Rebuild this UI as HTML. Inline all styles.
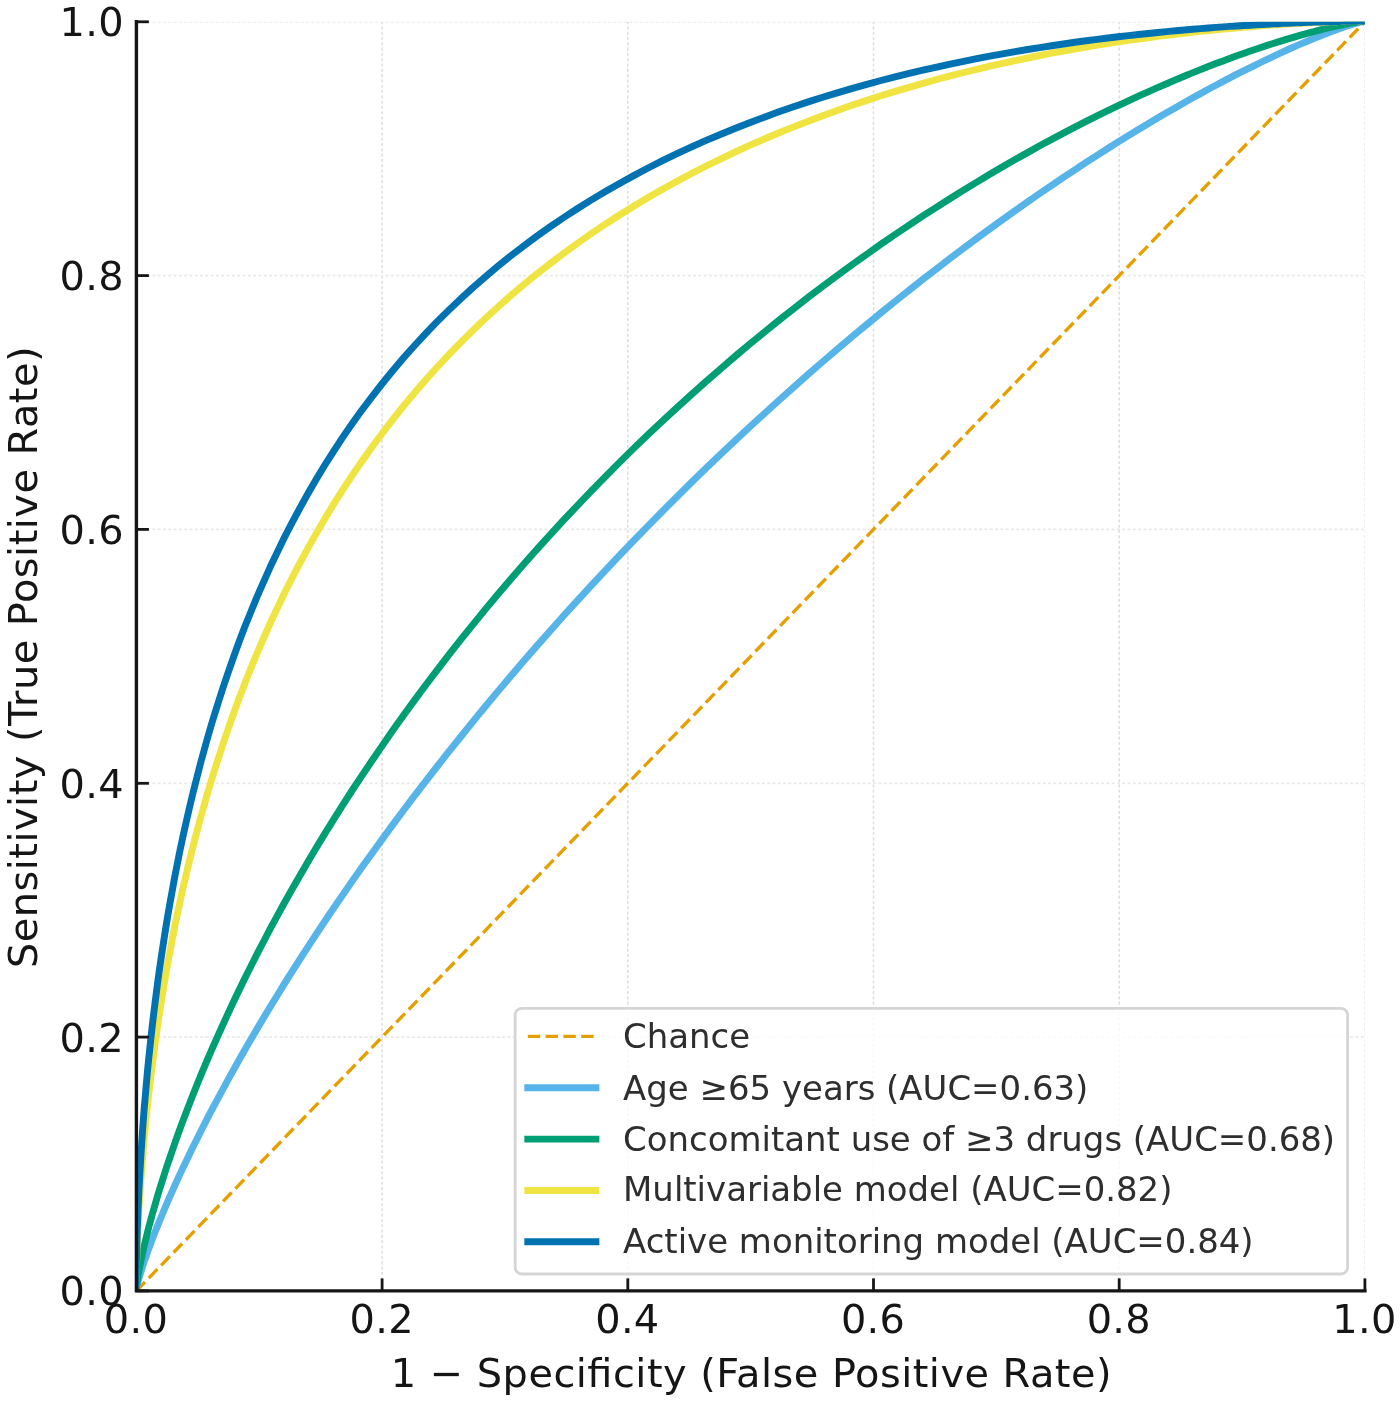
<!DOCTYPE html>
<html lang="en"><head><meta charset="utf-8"><title>ROC curves</title>
<style>html,body{margin:0;padding:0;background:#fff}svg{display:block}text{font-family:'DejaVu Sans','Liberation Sans',sans-serif;fill:#151515}.lg text{fill:#2e2e2e}</style>
</head><body>
<svg width="1400" height="1401" viewBox="0 0 1400 1401">
<rect width="1400" height="1401" fill="#ffffff"/>
<defs><clipPath id="ax"><rect x="136.4" y="21.8" width="1228.5" height="1269.1"/></clipPath></defs>
<g clip-path="url(#ax)" stroke-dasharray="3.1,2.2" fill="none">
<line x1="136.4" y1="1290.9" x2="136.4" y2="21.8" stroke="#ececec" stroke-width="1.5"/>
<line x1="382.1" y1="1290.9" x2="382.1" y2="21.8" stroke="#dedede" stroke-width="1.5"/>
<line x1="627.8" y1="1290.9" x2="627.8" y2="21.8" stroke="#dedede" stroke-width="1.5"/>
<line x1="873.5" y1="1290.9" x2="873.5" y2="21.8" stroke="#dedede" stroke-width="1.5"/>
<line x1="1119.2" y1="1290.9" x2="1119.2" y2="21.8" stroke="#dedede" stroke-width="1.5"/>
<line x1="1364.9" y1="1290.9" x2="1364.9" y2="21.8" stroke="#ececec" stroke-width="1.5"/>
<line x1="136.4" y1="1290.9" x2="1364.9" y2="1290.9" stroke="#e9e9e9" stroke-width="1.8"/>
<line x1="136.4" y1="1037.1" x2="1364.9" y2="1037.1" stroke="#e9e9e9" stroke-width="1.8"/>
<line x1="136.4" y1="783.3" x2="1364.9" y2="783.3" stroke="#e9e9e9" stroke-width="1.8"/>
<line x1="136.4" y1="529.4" x2="1364.9" y2="529.4" stroke="#e9e9e9" stroke-width="1.8"/>
<line x1="136.4" y1="275.6" x2="1364.9" y2="275.6" stroke="#e9e9e9" stroke-width="1.8"/>
<line x1="136.4" y1="21.8" x2="1364.9" y2="21.8" stroke="#e9e9e9" stroke-width="1.8"/>
</g>
<g clip-path="url(#ax)" fill="none" stroke-linejoin="round">
<line x1="136.4" y1="1290.9" x2="1364.9" y2="21.8" stroke="#E69F00" stroke-width="3.36" stroke-dasharray="12.4,5.4"/>
<path d="M136.0,1290.2 L136.0,1290.2 L136.0,1290.2 L136.0,1290.2 L136.0,1290.1 L136.0,1290.1 L136.0,1290.1 L136.0,1290.1 L136.0,1290.1 L136.0,1290.1 L136.0,1290.1 L136.0,1290.1 L136.0,1290.1 L136.0,1290.0 L136.0,1290.0 L136.0,1290.0 L136.0,1290.0 L136.0,1290.0 L136.0,1289.9 L136.0,1289.9 L136.1,1289.9 L136.1,1289.8 L136.1,1289.8 L136.1,1289.7 L136.1,1289.7 L136.1,1289.6 L136.1,1289.5 L136.1,1289.5 L136.1,1289.4 L136.2,1289.3 L136.2,1289.2 L136.2,1289.1 L136.2,1289.0 L136.2,1288.8 L136.3,1288.7 L136.3,1288.5 L136.3,1288.4 L136.4,1288.2 L136.4,1288.0 L136.5,1287.8 L136.5,1287.5 L136.6,1287.3 L136.7,1287.0 L136.7,1286.7 L136.8,1286.3 L136.9,1285.9 L137.0,1285.5 L137.1,1285.1 L137.2,1284.6 L137.4,1284.1 L137.5,1283.6 L137.7,1283.0 L137.8,1282.3 L138.0,1281.6 L138.2,1280.9 L138.4,1280.1 L138.7,1279.2 L138.9,1278.3 L139.2,1277.3 L139.6,1276.3 L139.9,1275.1 L140.3,1273.9 L140.7,1272.6 L141.1,1271.2 L141.6,1269.7 L142.1,1268.1 L142.6,1266.4 L143.2,1264.6 L143.8,1262.7 L144.5,1260.7 L145.3,1258.5 L146.1,1256.2 L146.9,1253.8 L147.8,1251.2 L148.8,1248.5 L149.9,1245.7 L151.0,1242.6 L152.2,1239.4 L153.5,1236.1 L154.9,1232.5 L156.4,1228.8 L157.9,1224.9 L159.6,1220.8 L161.4,1216.4 L163.3,1211.9 L165.3,1207.2 L167.4,1202.2 L169.7,1197.0 L172.1,1191.6 L174.6,1185.9 L177.3,1180.0 L180.1,1173.9 L183.1,1167.5 L186.3,1160.9 L189.6,1153.9 L193.1,1146.8 L196.8,1139.4 L200.6,1131.7 L204.7,1123.7 L208.9,1115.4 L213.4,1106.9 L218.1,1098.1 L223.0,1089.1 L228.1,1079.7 L233.4,1070.1 L238.9,1060.2 L244.7,1050.0 L250.8,1039.6 L257.0,1028.9 L263.6,1017.9 L270.3,1006.7 L277.4,995.2 L284.6,983.4 L292.2,971.4 L300.0,959.1 L308.1,946.7 L316.4,933.9 L325.0,921.0 L333.9,907.8 L343.0,894.5 L352.4,880.9 L362.1,867.1 L372.1,853.2 L382.3,839.1 L392.7,824.9 L403.4,810.5 L414.4,795.9 L425.6,781.3 L437.1,766.5 L448.8,751.6 L460.8,736.7 L472.9,721.6 L485.3,706.5 L497.9,691.4 L510.7,676.2 L523.7,661.1 L536.9,645.9 L550.3,630.7 L563.8,615.5 L577.6,600.4 L591.4,585.3 L605.4,570.3 L619.5,555.4 L633.7,540.6 L648.1,525.8 L662.5,511.2 L677.0,496.7 L691.6,482.3 L706.2,468.1 L720.9,454.1 L735.5,440.2 L750.2,426.5 L765.0,413.0 L779.6,399.7 L794.3,386.6 L808.9,373.7 L823.5,361.0 L838.0,348.6 L852.4,336.4 L866.8,324.5 L881.0,312.8 L895.1,301.4 L909.1,290.2 L922.9,279.3 L936.7,268.7 L950.2,258.3 L963.6,248.2 L976.8,238.4 L989.8,228.9 L1002.6,219.6 L1015.2,210.6 L1027.6,201.9 L1039.7,193.5 L1051.7,185.3 L1063.4,177.4 L1074.9,169.8 L1086.1,162.4 L1097.1,155.3 L1107.8,148.5 L1118.2,141.9 L1128.4,135.6 L1138.4,129.5 L1148.1,123.7 L1157.5,118.1 L1166.6,112.8 L1175.5,107.7 L1184.1,102.8 L1192.4,98.1 L1200.5,93.6 L1208.3,89.3 L1215.9,85.3 L1223.1,81.4 L1230.2,77.7 L1236.9,74.2 L1243.5,70.9 L1249.7,67.8 L1255.8,64.8 L1261.6,62.0 L1267.1,59.3 L1272.4,56.8 L1277.5,54.4 L1282.4,52.1 L1287.1,50.0 L1291.6,48.0 L1295.8,46.1 L1299.9,44.4 L1303.7,42.7 L1307.4,41.2 L1310.9,39.7 L1314.2,38.3 L1317.4,37.0 L1320.4,35.9 L1323.2,34.7 L1325.9,33.7 L1328.4,32.7 L1330.8,31.8 L1333.1,31.0 L1335.2,30.2 L1337.2,29.5 L1339.1,28.8 L1340.9,28.1 L1342.6,27.6 L1344.1,27.0 L1345.6,26.5 L1347.0,26.1 L1348.3,25.6 L1349.5,25.3 L1350.6,24.9 L1351.7,24.6 L1352.7,24.3 L1353.6,24.0 L1354.4,23.7 L1355.2,23.5 L1356.0,23.3 L1356.7,23.1 L1357.3,22.9 L1357.9,22.7 L1358.4,22.6 L1358.9,22.4 L1359.4,22.3 L1359.8,22.2 L1360.2,22.1 L1360.6,22.0 L1360.9,21.9 L1361.3,21.8 L1361.6,21.7 L1361.8,21.7 L1362.1,21.6 L1362.3,21.6 L1362.5,21.5 L1362.7,21.5 L1362.8,21.4 L1363.0,21.4 L1363.1,21.4 L1363.3,21.3 L1363.4,21.3 L1363.5,21.3 L1363.6,21.3 L1363.7,21.2 L1363.8,21.2 L1363.8,21.2 L1363.9,21.2 L1364.0,21.2 L1364.0,21.2 L1364.1,21.2 L1364.1,21.2 L1364.2,21.2 L1364.2,21.1 L1364.2,21.1 L1364.3,21.1 L1364.3,21.1 L1364.3,21.1 L1364.3,21.1 L1364.3,21.1 L1364.4,21.1 L1364.4,21.1 L1364.4,21.1 L1364.4,21.1 L1364.4,21.1 L1364.4,21.1 L1364.4,21.1 L1364.4,21.1 L1364.4,21.1 L1364.5,21.1 L1364.5,21.1 L1364.5,21.1 L1364.5,21.1 L1364.5,21.1 L1364.5,21.1 L1364.5,21.1 L1364.5,21.1 L1364.5,21.1 L1364.5,21.1 L1364.5,21.1 L1364.5,21.1 L1364.5,21.1 L1364.5,21.1 L1364.5,21.1 L1364.5,21.1 L1364.5,21.1 L1364.5,21.1 L1364.5,21.1 L1364.5,21.1" stroke="#56B4E9" stroke-width="6.94" stroke-linecap="square"/>
<path d="M136.0,1290.2 L136.0,1290.1 L136.0,1290.1 L136.0,1290.1 L136.0,1290.1 L136.0,1290.1 L136.0,1290.1 L136.0,1290.0 L136.0,1290.0 L136.0,1290.0 L136.0,1290.0 L136.0,1289.9 L136.0,1289.9 L136.0,1289.9 L136.0,1289.8 L136.0,1289.8 L136.0,1289.8 L136.0,1289.7 L136.0,1289.6 L136.0,1289.6 L136.1,1289.5 L136.1,1289.4 L136.1,1289.4 L136.1,1289.3 L136.1,1289.2 L136.1,1289.0 L136.1,1288.9 L136.1,1288.8 L136.1,1288.6 L136.2,1288.5 L136.2,1288.3 L136.2,1288.1 L136.2,1287.9 L136.2,1287.7 L136.3,1287.4 L136.3,1287.1 L136.3,1286.8 L136.4,1286.5 L136.4,1286.2 L136.5,1285.8 L136.5,1285.4 L136.6,1284.9 L136.7,1284.4 L136.7,1283.9 L136.8,1283.3 L136.9,1282.7 L137.0,1282.1 L137.1,1281.3 L137.2,1280.6 L137.4,1279.8 L137.5,1278.9 L137.7,1277.9 L137.8,1276.9 L138.0,1275.8 L138.2,1274.6 L138.4,1273.4 L138.7,1272.0 L138.9,1270.6 L139.2,1269.1 L139.6,1267.4 L139.9,1265.7 L140.3,1263.9 L140.7,1261.9 L141.1,1259.8 L141.6,1257.6 L142.1,1255.3 L142.6,1252.8 L143.2,1250.2 L143.8,1247.4 L144.5,1244.5 L145.3,1241.4 L146.1,1238.1 L146.9,1234.7 L147.8,1231.0 L148.8,1227.2 L149.9,1223.2 L151.0,1219.0 L152.2,1214.6 L153.5,1210.0 L154.9,1205.2 L156.4,1200.1 L157.9,1194.8 L159.6,1189.3 L161.4,1183.6 L163.3,1177.6 L165.3,1171.3 L167.4,1164.8 L169.7,1158.1 L172.1,1151.1 L174.6,1143.8 L177.3,1136.3 L180.1,1128.5 L183.1,1120.4 L186.3,1112.0 L189.6,1103.4 L193.1,1094.5 L196.8,1085.3 L200.6,1075.9 L204.7,1066.1 L208.9,1056.1 L213.4,1045.8 L218.1,1035.3 L223.0,1024.5 L228.1,1013.4 L233.4,1002.0 L238.9,990.4 L244.7,978.6 L250.8,966.5 L257.0,954.1 L263.6,941.5 L270.3,928.7 L277.4,915.7 L284.6,902.5 L292.2,889.0 L300.0,875.4 L308.1,861.5 L316.4,847.5 L325.0,833.4 L333.9,819.1 L343.0,804.6 L352.4,790.0 L362.1,775.3 L372.1,760.5 L382.3,745.6 L392.7,730.6 L403.4,715.5 L414.4,700.4 L425.6,685.3 L437.1,670.1 L448.8,654.9 L460.8,639.7 L472.9,624.6 L485.3,609.4 L497.9,594.3 L510.7,579.3 L523.7,564.3 L536.9,549.4 L550.3,534.6 L563.8,519.9 L577.6,505.3 L591.4,490.9 L605.4,476.6 L619.5,462.4 L633.7,448.4 L648.1,434.6 L662.5,421.0 L677.0,407.6 L691.6,394.4 L706.2,381.3 L720.9,368.6 L735.5,356.0 L750.2,343.7 L765.0,331.6 L779.6,319.7 L794.3,308.2 L808.9,296.8 L823.5,285.8 L838.0,275.0 L852.4,264.5 L866.8,254.2 L881.0,244.2 L895.1,234.5 L909.1,225.1 L922.9,215.9 L936.7,207.1 L950.2,198.5 L963.6,190.1 L976.8,182.1 L989.8,174.3 L1002.6,166.8 L1015.2,159.5 L1027.6,152.6 L1039.7,145.8 L1051.7,139.4 L1063.4,133.1 L1074.9,127.2 L1086.1,121.4 L1097.1,115.9 L1107.8,110.7 L1118.2,105.7 L1128.4,100.8 L1138.4,96.2 L1148.1,91.9 L1157.5,87.7 L1166.6,83.7 L1175.5,79.9 L1184.1,76.3 L1192.4,72.9 L1200.5,69.6 L1208.3,66.6 L1215.9,63.6 L1223.1,60.9 L1230.2,58.3 L1236.9,55.8 L1243.5,53.5 L1249.7,51.3 L1255.8,49.2 L1261.6,47.2 L1267.1,45.4 L1272.4,43.7 L1277.5,42.1 L1282.4,40.6 L1287.1,39.1 L1291.6,37.8 L1295.8,36.6 L1299.9,35.4 L1303.7,34.3 L1307.4,33.3 L1310.9,32.3 L1314.2,31.5 L1317.4,30.6 L1320.4,29.9 L1323.2,29.2 L1325.9,28.5 L1328.4,27.9 L1330.8,27.3 L1333.1,26.8 L1335.2,26.3 L1337.2,25.9 L1339.1,25.5 L1340.9,25.1 L1342.6,24.8 L1344.1,24.4 L1345.6,24.1 L1347.0,23.9 L1348.3,23.6 L1349.5,23.4 L1350.6,23.2 L1351.7,23.0 L1352.7,22.8 L1353.6,22.6 L1354.4,22.5 L1355.2,22.4 L1356.0,22.2 L1356.7,22.1 L1357.3,22.0 L1357.9,21.9 L1358.4,21.9 L1358.9,21.8 L1359.4,21.7 L1359.8,21.6 L1360.2,21.6 L1360.6,21.5 L1360.9,21.5 L1361.3,21.5 L1361.6,21.4 L1361.8,21.4 L1362.1,21.4 L1362.3,21.3 L1362.5,21.3 L1362.7,21.3 L1362.8,21.3 L1363.0,21.2 L1363.1,21.2 L1363.3,21.2 L1363.4,21.2 L1363.5,21.2 L1363.6,21.2 L1363.7,21.2 L1363.8,21.2 L1363.8,21.2 L1363.9,21.1 L1364.0,21.1 L1364.0,21.1 L1364.1,21.1 L1364.1,21.1 L1364.2,21.1 L1364.2,21.1 L1364.2,21.1 L1364.3,21.1 L1364.3,21.1 L1364.3,21.1 L1364.3,21.1 L1364.3,21.1 L1364.4,21.1 L1364.4,21.1 L1364.4,21.1 L1364.4,21.1 L1364.4,21.1 L1364.4,21.1 L1364.4,21.1 L1364.4,21.1 L1364.4,21.1 L1364.5,21.1 L1364.5,21.1 L1364.5,21.1 L1364.5,21.1 L1364.5,21.1 L1364.5,21.1 L1364.5,21.1 L1364.5,21.1 L1364.5,21.1 L1364.5,21.1 L1364.5,21.1 L1364.5,21.1 L1364.5,21.1 L1364.5,21.1 L1364.5,21.1 L1364.5,21.1 L1364.5,21.1 L1364.5,21.1 L1364.5,21.1 L1364.5,21.1" stroke="#009E73" stroke-width="6.94" stroke-linecap="square"/>
<path d="M136.0,1290.2 L136.0,1289.3 L136.0,1289.3 L136.0,1289.1 L136.0,1289.0 L136.0,1288.9 L136.0,1288.8 L136.0,1288.6 L136.0,1288.5 L136.0,1288.3 L136.0,1288.1 L136.0,1287.9 L136.0,1287.6 L136.0,1287.4 L136.0,1287.1 L136.0,1286.8 L136.0,1286.5 L136.0,1286.1 L136.0,1285.7 L136.0,1285.3 L136.1,1284.9 L136.1,1284.4 L136.1,1283.8 L136.1,1283.3 L136.1,1282.7 L136.1,1282.0 L136.1,1281.3 L136.1,1280.5 L136.1,1279.7 L136.2,1278.8 L136.2,1277.8 L136.2,1276.8 L136.2,1275.7 L136.2,1274.5 L136.3,1273.2 L136.3,1271.9 L136.3,1270.4 L136.4,1268.9 L136.4,1267.3 L136.5,1265.5 L136.5,1263.7 L136.6,1261.7 L136.7,1259.6 L136.7,1257.4 L136.8,1255.0 L136.9,1252.5 L137.0,1249.9 L137.1,1247.1 L137.2,1244.1 L137.4,1241.0 L137.5,1237.8 L137.7,1234.3 L137.8,1230.7 L138.0,1226.8 L138.2,1222.8 L138.4,1218.6 L138.7,1214.2 L138.9,1209.5 L139.2,1204.7 L139.6,1199.6 L139.9,1194.3 L140.3,1188.7 L140.7,1183.0 L141.1,1177.0 L141.6,1170.7 L142.1,1164.2 L142.6,1157.4 L143.2,1150.3 L143.8,1143.0 L144.5,1135.5 L145.3,1127.6 L146.1,1119.5 L146.9,1111.2 L147.8,1102.5 L148.8,1093.6 L149.9,1084.4 L151.0,1074.9 L152.2,1065.1 L153.5,1055.1 L154.9,1044.8 L156.4,1034.2 L157.9,1023.3 L159.6,1012.2 L161.4,1000.9 L163.3,989.2 L165.3,977.3 L167.4,965.2 L169.7,952.8 L172.1,940.2 L174.6,927.4 L177.3,914.3 L180.1,901.1 L183.1,887.6 L186.3,874.0 L189.6,860.1 L193.1,846.1 L196.8,831.9 L200.6,817.6 L204.7,803.1 L208.9,788.5 L213.4,773.8 L218.1,759.0 L223.0,744.0 L228.1,729.0 L233.4,714.0 L238.9,698.9 L244.7,683.7 L250.8,668.5 L257.0,653.4 L263.6,638.2 L270.3,623.0 L277.4,607.9 L284.6,592.8 L292.2,577.7 L300.0,562.8 L308.1,547.9 L316.4,533.1 L325.0,518.4 L333.9,503.8 L343.0,489.4 L352.4,475.1 L362.1,461.0 L372.1,447.0 L382.3,433.2 L392.7,419.6 L403.4,406.2 L414.4,393.0 L425.6,380.0 L437.1,367.2 L448.8,354.7 L460.8,342.4 L472.9,330.4 L485.3,318.5 L497.9,307.0 L510.7,295.7 L523.7,284.7 L536.9,273.9 L550.3,263.4 L563.8,253.2 L577.6,243.2 L591.4,233.5 L605.4,224.1 L619.5,215.0 L633.7,206.2 L648.1,197.6 L662.5,189.3 L677.0,181.3 L691.6,173.5 L706.2,166.0 L720.9,158.8 L735.5,151.8 L750.2,145.1 L765.0,138.7 L779.6,132.5 L794.3,126.6 L808.9,120.9 L823.5,115.4 L838.0,110.2 L852.4,105.1 L866.8,100.4 L881.0,95.8 L895.1,91.4 L909.1,87.3 L922.9,83.3 L936.7,79.5 L950.2,75.9 L963.6,72.5 L976.8,69.3 L989.8,66.2 L1002.6,63.3 L1015.2,60.6 L1027.6,58.0 L1039.7,55.5 L1051.7,53.2 L1063.4,51.0 L1074.9,49.0 L1086.1,47.1 L1097.1,45.2 L1107.8,43.5 L1118.2,41.9 L1128.4,40.4 L1138.4,39.0 L1148.1,37.7 L1157.5,36.4 L1166.6,35.3 L1175.5,34.2 L1184.1,33.2 L1192.4,32.3 L1200.5,31.4 L1208.3,30.6 L1215.9,29.8 L1223.1,29.1 L1230.2,28.5 L1236.9,27.8 L1243.5,27.3 L1249.7,26.8 L1255.8,26.3 L1261.6,25.8 L1267.1,25.4 L1272.4,25.1 L1277.5,24.7 L1282.4,24.4 L1287.1,24.1 L1291.6,23.8 L1295.8,23.6 L1299.9,23.4 L1303.7,23.2 L1307.4,23.0 L1310.9,22.8 L1314.2,22.6 L1317.4,22.5 L1320.4,22.4 L1323.2,22.2 L1325.9,22.1 L1328.4,22.0 L1330.8,21.9 L1333.1,21.8 L1335.2,21.8 L1337.2,21.7 L1339.1,21.6 L1340.9,21.6 L1342.6,21.5 L1344.1,21.5 L1345.6,21.4 L1347.0,21.4 L1348.3,21.4 L1349.5,21.3 L1350.6,21.3 L1351.7,21.3 L1352.7,21.3 L1353.6,21.3 L1354.4,21.2 L1355.2,21.2 L1356.0,21.2 L1356.7,21.2 L1357.3,21.2 L1357.9,21.2 L1358.4,21.2 L1358.9,21.2 L1359.4,21.2 L1359.8,21.1 L1360.2,21.1 L1360.6,21.1 L1360.9,21.1 L1361.3,21.1 L1361.6,21.1 L1361.8,21.1 L1362.1,21.1 L1362.3,21.1 L1362.5,21.1 L1362.7,21.1 L1362.8,21.1 L1363.0,21.1 L1363.1,21.1 L1363.3,21.1 L1363.4,21.1 L1363.5,21.1 L1363.6,21.1 L1363.7,21.1 L1363.8,21.1 L1363.8,21.1 L1363.9,21.1 L1364.0,21.1 L1364.0,21.1 L1364.1,21.1 L1364.1,21.1 L1364.2,21.1 L1364.2,21.1 L1364.2,21.1 L1364.3,21.1 L1364.3,21.1 L1364.3,21.1 L1364.3,21.1 L1364.3,21.1 L1364.4,21.1 L1364.4,21.1 L1364.4,21.1 L1364.4,21.1 L1364.4,21.1 L1364.4,21.1 L1364.4,21.1 L1364.4,21.1 L1364.4,21.1 L1364.5,21.1 L1364.5,21.1 L1364.5,21.1 L1364.5,21.1 L1364.5,21.1 L1364.5,21.1 L1364.5,21.1 L1364.5,21.1 L1364.5,21.1 L1364.5,21.1 L1364.5,21.1 L1364.5,21.1 L1364.5,21.1 L1364.5,21.1 L1364.5,21.1 L1364.5,21.1 L1364.5,21.1 L1364.5,21.1 L1364.5,21.1 L1364.5,21.1" stroke="#F0E442" stroke-width="6.94" stroke-linecap="square"/>
<path d="M136.0,1290.2 L136.0,1288.9 L136.0,1288.8 L136.0,1288.7 L136.0,1288.5 L136.0,1288.3 L136.0,1288.1 L136.0,1287.9 L136.0,1287.7 L136.0,1287.5 L136.0,1287.2 L136.0,1286.9 L136.0,1286.6 L136.0,1286.2 L136.0,1285.8 L136.0,1285.4 L136.0,1285.0 L136.0,1284.5 L136.0,1284.0 L136.0,1283.4 L136.1,1282.8 L136.1,1282.2 L136.1,1281.5 L136.1,1280.7 L136.1,1279.9 L136.1,1279.0 L136.1,1278.1 L136.1,1277.1 L136.1,1276.0 L136.2,1274.8 L136.2,1273.6 L136.2,1272.3 L136.2,1270.9 L136.2,1269.3 L136.3,1267.7 L136.3,1266.0 L136.3,1264.2 L136.4,1262.2 L136.4,1260.2 L136.5,1258.0 L136.5,1255.7 L136.6,1253.2 L136.7,1250.6 L136.7,1247.9 L136.8,1245.0 L136.9,1241.9 L137.0,1238.7 L137.1,1235.2 L137.2,1231.7 L137.4,1227.9 L137.5,1223.9 L137.7,1219.8 L137.8,1215.4 L138.0,1210.8 L138.2,1206.0 L138.4,1201.0 L138.7,1195.8 L138.9,1190.3 L139.2,1184.6 L139.6,1178.6 L139.9,1172.4 L140.3,1166.0 L140.7,1159.3 L141.1,1152.3 L141.6,1145.1 L142.1,1137.6 L142.6,1129.8 L143.2,1121.8 L143.8,1113.5 L144.5,1104.9 L145.3,1096.0 L146.1,1086.9 L146.9,1077.5 L147.8,1067.8 L148.8,1057.8 L149.9,1047.6 L151.0,1037.1 L152.2,1026.3 L153.5,1015.3 L154.9,1004.0 L156.4,992.4 L157.9,980.6 L159.6,968.5 L161.4,956.2 L163.3,943.7 L165.3,930.9 L167.4,917.9 L169.7,904.7 L172.1,891.3 L174.6,877.7 L177.3,863.9 L180.1,849.9 L183.1,835.8 L186.3,821.5 L189.6,807.0 L193.1,792.5 L196.8,777.8 L200.6,763.0 L204.7,748.1 L208.9,733.1 L213.4,718.1 L218.1,703.0 L223.0,687.8 L228.1,672.7 L233.4,657.5 L238.9,642.3 L244.7,627.1 L250.8,612.0 L257.0,596.9 L263.6,581.8 L270.3,566.8 L277.4,551.9 L284.6,537.1 L292.2,522.4 L300.0,507.8 L308.1,493.3 L316.4,479.0 L325.0,464.8 L333.9,450.8 L343.0,436.9 L352.4,423.3 L362.1,409.8 L372.1,396.6 L382.3,383.5 L392.7,370.7 L403.4,358.1 L414.4,345.7 L425.6,333.6 L437.1,321.7 L448.8,310.1 L460.8,298.7 L472.9,287.6 L485.3,276.8 L497.9,266.2 L510.7,255.9 L523.7,245.9 L536.9,236.1 L550.3,226.7 L563.8,217.5 L577.6,208.5 L591.4,199.9 L605.4,191.5 L619.5,183.4 L633.7,175.6 L648.1,168.0 L662.5,160.7 L677.0,153.7 L691.6,146.9 L706.2,140.4 L720.9,134.2 L735.5,128.2 L750.2,122.4 L765.0,116.9 L779.6,111.6 L794.3,106.5 L808.9,101.6 L823.5,97.0 L838.0,92.6 L852.4,88.4 L866.8,84.4 L881.0,80.5 L895.1,76.9 L909.1,73.4 L922.9,70.2 L936.7,67.1 L950.2,64.1 L963.6,61.3 L976.8,58.7 L989.8,56.2 L1002.6,53.8 L1015.2,51.6 L1027.6,49.5 L1039.7,47.6 L1051.7,45.7 L1063.4,44.0 L1074.9,42.3 L1086.1,40.8 L1097.1,39.4 L1107.8,38.0 L1118.2,36.8 L1128.4,35.6 L1138.4,34.5 L1148.1,33.5 L1157.5,32.5 L1166.6,31.6 L1175.5,30.8 L1184.1,30.0 L1192.4,29.3 L1200.5,28.6 L1208.3,28.0 L1215.9,27.4 L1223.1,26.9 L1230.2,26.4 L1236.9,26.0 L1243.5,25.5 L1249.7,25.2 L1255.8,24.8 L1261.6,24.5 L1267.1,24.2 L1272.4,23.9 L1277.5,23.7 L1282.4,23.4 L1287.1,23.2 L1291.6,23.0 L1295.8,22.8 L1299.9,22.7 L1303.7,22.5 L1307.4,22.4 L1310.9,22.3 L1314.2,22.1 L1317.4,22.0 L1320.4,22.0 L1323.2,21.9 L1325.9,21.8 L1328.4,21.7 L1330.8,21.7 L1333.1,21.6 L1335.2,21.5 L1337.2,21.5 L1339.1,21.5 L1340.9,21.4 L1342.6,21.4 L1344.1,21.4 L1345.6,21.3 L1347.0,21.3 L1348.3,21.3 L1349.5,21.3 L1350.6,21.2 L1351.7,21.2 L1352.7,21.2 L1353.6,21.2 L1354.4,21.2 L1355.2,21.2 L1356.0,21.2 L1356.7,21.2 L1357.3,21.2 L1357.9,21.1 L1358.4,21.1 L1358.9,21.1 L1359.4,21.1 L1359.8,21.1 L1360.2,21.1 L1360.6,21.1 L1360.9,21.1 L1361.3,21.1 L1361.6,21.1 L1361.8,21.1 L1362.1,21.1 L1362.3,21.1 L1362.5,21.1 L1362.7,21.1 L1362.8,21.1 L1363.0,21.1 L1363.1,21.1 L1363.3,21.1 L1363.4,21.1 L1363.5,21.1 L1363.6,21.1 L1363.7,21.1 L1363.8,21.1 L1363.8,21.1 L1363.9,21.1 L1364.0,21.1 L1364.0,21.1 L1364.1,21.1 L1364.1,21.1 L1364.2,21.1 L1364.2,21.1 L1364.2,21.1 L1364.3,21.1 L1364.3,21.1 L1364.3,21.1 L1364.3,21.1 L1364.3,21.1 L1364.4,21.1 L1364.4,21.1 L1364.4,21.1 L1364.4,21.1 L1364.4,21.1 L1364.4,21.1 L1364.4,21.1 L1364.4,21.1 L1364.4,21.1 L1364.5,21.1 L1364.5,21.1 L1364.5,21.1 L1364.5,21.1 L1364.5,21.1 L1364.5,21.1 L1364.5,21.1 L1364.5,21.1 L1364.5,21.1 L1364.5,21.1 L1364.5,21.1 L1364.5,21.1 L1364.5,21.1 L1364.5,21.1 L1364.5,21.1 L1364.5,21.1 L1364.5,21.1 L1364.5,21.1 L1364.5,21.1 L1364.5,21.1" stroke="#0072B2" stroke-width="6.94" stroke-linecap="square"/>
</g>
<g stroke="#161616" stroke-width="2.8" fill="none">
<line x1="136.4" y1="1290.9" x2="136.4" y2="1278.4"/>
<line x1="136.4" y1="1290.9" x2="148.9" y2="1290.9"/>
<line x1="382.1" y1="1290.9" x2="382.1" y2="1278.4"/>
<line x1="136.4" y1="1037.1" x2="148.9" y2="1037.1"/>
<line x1="627.8" y1="1290.9" x2="627.8" y2="1278.4"/>
<line x1="136.4" y1="783.3" x2="148.9" y2="783.3"/>
<line x1="873.5" y1="1290.9" x2="873.5" y2="1278.4"/>
<line x1="136.4" y1="529.4" x2="148.9" y2="529.4"/>
<line x1="1119.2" y1="1290.9" x2="1119.2" y2="1278.4"/>
<line x1="136.4" y1="275.6" x2="148.9" y2="275.6"/>
<line x1="1364.9" y1="1290.9" x2="1364.9" y2="1278.4"/>
<line x1="136.4" y1="21.8" x2="148.9" y2="21.8"/>
</g>
<path d="M136.4,21.8 L136.4,1290.9 L1364.9,1290.9" stroke="#161616" stroke-width="3.4" fill="none" stroke-linecap="square" stroke-linejoin="miter"/>
<g font-size="39.9" letter-spacing="0.28">
<text x="136.0" y="1333.3" text-anchor="middle">0.0</text>
<text x="381.7" y="1333.3" text-anchor="middle">0.2</text>
<text x="627.4" y="1333.3" text-anchor="middle">0.4</text>
<text x="873.1" y="1333.3" text-anchor="middle">0.6</text>
<text x="1118.8" y="1333.3" text-anchor="middle">0.8</text>
<text x="1364.5" y="1333.3" text-anchor="middle">1.0</text>
<text x="123.9" y="1305.3" text-anchor="end">0.0</text>
<text x="123.9" y="1051.5" text-anchor="end">0.2</text>
<text x="123.9" y="797.7" text-anchor="end">0.4</text>
<text x="123.9" y="543.8" text-anchor="end">0.6</text>
<text x="123.9" y="290.0" text-anchor="end">0.8</text>
<text x="123.9" y="36.2" text-anchor="end">1.0</text>
</g>
<text x="751.15" y="1386.5" font-size="39.9" text-anchor="middle" textLength="720.8" lengthAdjust="spacing">1 − Specificity (False Positive Rate)</text>
<text transform="translate(37,657.25) rotate(-90)" font-size="39.9" text-anchor="middle" textLength="621.6" lengthAdjust="spacing">Sensitivity (True Positive Rate)</text>
<rect x="515.15" y="1008.4" width="832.45" height="265.6" rx="6.7" ry="6.7" fill="#ffffff" fill-opacity="0.8" stroke="#d5d5d5" stroke-width="2.8"/>
<g class="lg" font-size="33.95">
<line x1="527.8" y1="1036.4" x2="595.6" y2="1036.4" stroke="#E69F00" stroke-width="3.36" stroke-dasharray="12.4,5.4"/>
<text x="623.1" y="1048.3">Chance</text>
<line x1="527.8" y1="1087.75" x2="595.9" y2="1087.75" stroke="#56B4E9" stroke-width="6.94" stroke-linecap="square"/>
<text x="623.1" y="1099.9">Age ≥65 years (AUC=0.63)</text>
<line x1="527.8" y1="1139.1" x2="595.9" y2="1139.1" stroke="#009E73" stroke-width="6.94" stroke-linecap="square"/>
<text x="623.1" y="1151.0">Concomitant use of ≥3 drugs (AUC=0.68)</text>
<line x1="527.8" y1="1190.45" x2="595.9" y2="1190.45" stroke="#F0E442" stroke-width="6.94" stroke-linecap="square"/>
<text x="623.1" y="1201.3">Multivariable model (AUC=0.82)</text>
<line x1="527.8" y1="1241.8" x2="595.9" y2="1241.8" stroke="#0072B2" stroke-width="6.94" stroke-linecap="square"/>
<text x="623.1" y="1253.3">Active monitoring model (AUC=0.84)</text>
</g>
</svg>
</body></html>
